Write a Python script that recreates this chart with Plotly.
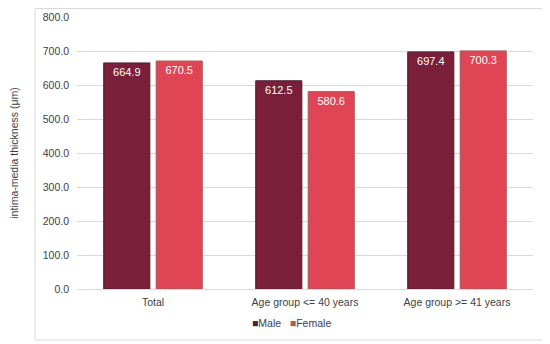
import plotly.graph_objects as go

categories = ["Total", "Age group <= 40 years", "Age group >= 41 years"]
male = [664.9, 612.5, 697.4]
female = [670.5, 580.6, 700.3]
series_names = ["Male", "Female"]

FS = 10.5
fig = go.Figure()
fig.add_trace(go.Bar(
    name=series_names[0], x=categories, y=male,
    marker=dict(color="#7A1F3A", line=dict(color="#4E2230", width=1)),
    text=[f"{v:.1f}" for v in male], textposition="inside", insidetextanchor="end",
    textfont=dict(color="white", size=11), cliponaxis=False,
))
fig.add_trace(go.Bar(
    name=series_names[1], x=categories, y=female,
    marker=dict(color="#E04556", line=dict(color="#A4605A", width=1)),
    text=[f"{v:.1f}" for v in female], textposition="inside", insidetextanchor="end",
    textfont=dict(color="white", size=11), cliponaxis=False,
))

legend_text = (
    "<span style='color:#4E2230'>■</span>" + series_names[0] +
    "&nbsp;&nbsp;&nbsp;<span style='color:#A4605A'>■</span>" + series_names[1]
)

# page body has an 8px default margin; figure is sized to fit the 550x344 window
fig.update_layout(
    width=542, height=336,
    margin=dict(l=69, r=17, t=9, b=55, autoexpand=False),
    paper_bgcolor="white", plot_bgcolor="white",
    font=dict(family="Liberation Sans, Arial, sans-serif", size=FS, color="#404040"),
    barmode="group", bargap=0.31, bargroupgap=0.12,
    showlegend=False,
    shapes=[dict(type="rect", xref="paper", yref="paper", x0=-0.092, x1=1.026,
                 y0=-0.1875, y1=1.031, line=dict(color="#D9D9D9", width=1))],
    annotations=[dict(text=legend_text, xref="paper", yref="paper", x=0.47, y=-0.125,
                      xanchor="center", yanchor="middle", showarrow=False,
                      font=dict(size=FS, color="#404040"))],
)
fig.update_xaxes(showgrid=False, showline=True, linecolor="#D9D9D9", ticks="",
                 automargin=False, ticklabelstandoff=3,
                 tickfont=dict(size=FS, color="#404040"))
fig.update_yaxes(range=[0, 800], dtick=100, tickformat=".1f", showgrid=True,
                 gridcolor="#D9D9D9", zeroline=False, ticks="", automargin=False,
                 ticklabelstandoff=7,
                 title=dict(text="intima-media thickness (μm)", font=dict(size=FS, color="#404040"), standoff=30),
                 tickfont=dict(size=FS, color="#404040"))

fig.write_html("out.html")
